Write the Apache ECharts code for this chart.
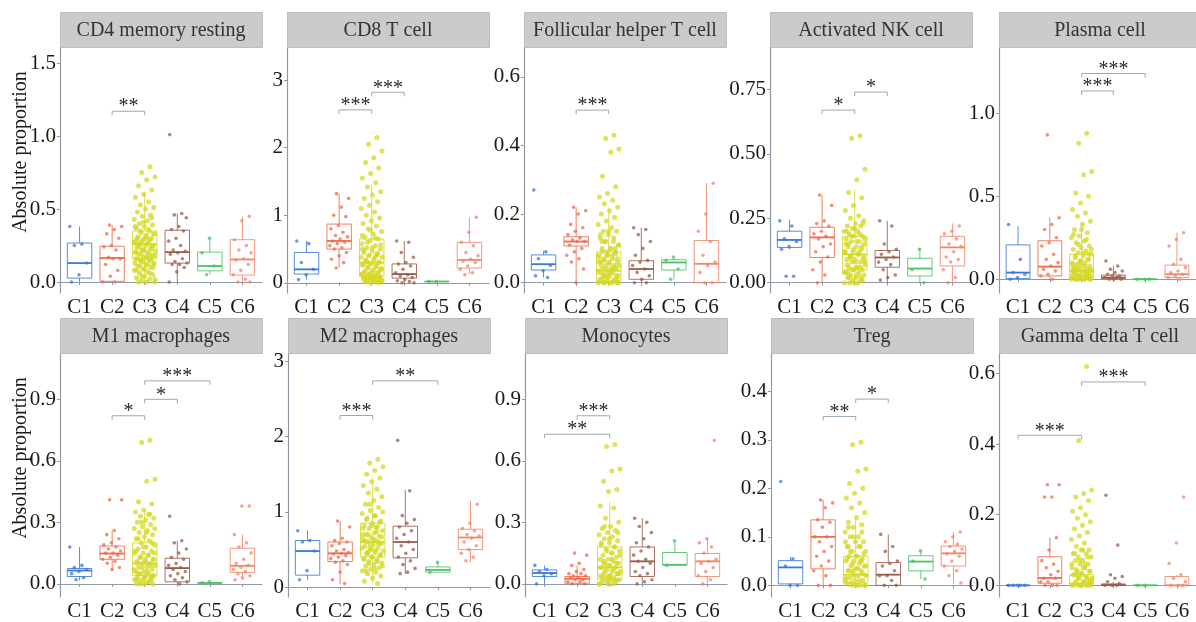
<!DOCTYPE html>
<html>
<head>
<meta charset="utf-8">
<script src="https://cdn.jsdelivr.net/npm/echarts@6/dist/echarts.min.js"></script>
<style>
  html, body { margin: 0; padding: 0; background: #fff; }
  #chart { width: 1196px; height: 622px; }
</style>
</head>
<body>
<div id="chart"></div>
<script>
const groups = ['C1', 'C2', 'C3', 'C4', 'C5', 'C6'];
const groupColors = ['#3b78d8', '#f06a48', '#d4d824', '#9b5b4b', '#4cc266', '#f3866a'];

// box stats per group: [lower whisker, Q1, median, Q3, upper whisker]
// CD4 memory resting
const cd4Box = [
  [0, 0.027, 0.13, 0.267, 0.38],
  [0, 0.005, 0.165, 0.245, 0.39],
  [0, 0.16, 0.26, 0.35, 0.62],
  [0, 0.13, 0.205, 0.355, 0.47],
  [0.05, 0.077, 0.11, 0.205, 0.30],
  [0, 0.048, 0.155, 0.29, 0.45]
];
const cd4Pts = [
  [0.38, 0.26, 0.25, 0.13, 0.05, 0],
  [0.39, 0.38, 0.36, 0.33, 0.3, 0.25, 0.24, 0.22, 0.17, 0.16, 0.16, 0.12, 0.08, 0.04, 0, 0],
  [0.79, 0.75, 0.72, 0.7, 0.66, 0.63, 0.6, 0.58, 0.55, 0.53, 0.51, 0.5, 0.48, 0.46, 0.45, 0.43, 0.42, 0.4, 0.39, 0.38,
   0.37, 0.35, 0.34, 0.33, 0.32, 0.31, 0.3, 0.29, 0.28, 0.27, 0.26, 0.25, 0.25, 0.24, 0.23, 0.22, 0.21, 0.2, 0.19, 0.18,
   0.17, 0.16, 0.15, 0.14, 0.13, 0.12, 0.11, 0.1, 0.09, 0.08, 0.07, 0.06, 0.05, 0.04, 0.03, 0.02, 0.01, 0, 0, 0,
   0.44, 0.41, 0.38, 0.36, 0.35, 0.33, 0.31, 0.3, 0.29, 0.28, 0.27, 0.26, 0.24, 0.23, 0.22, 0.21, 0.2, 0.19, 0.18, 0.17,
   0.16, 0.15, 0.14, 0.13, 0.12, 0.11, 0.1, 0.09, 0.08, 0.06, 0.04, 0.02, 0.3, 0.27, 0.25, 0.22, 0.2, 0.17, 0.15, 0.12],
  [1.01, 0.47, 0.46, 0.44, 0.38, 0.36, 0.35, 0.3, 0.28, 0.25, 0.22, 0.21, 0.2, 0.19, 0.16, 0.14, 0.13, 0.12, 0.12, 0.1, 0.07, 0],
  [0.3, 0.2, 0.11, 0.05],
  [0.45, 0.42, 0.29, 0.25, 0.22, 0.2, 0.16, 0.15, 0.12, 0.08, 0.05, 0.02, 0, 0]
];
const cd4Sig = [[2, 3, 1.17, '**']];

// CD8 T cell
const cd8Box = [
  [0.05, 0.13, 0.2, 0.45, 0.62],
  [0.22, 0.5, 0.62, 0.87, 1.32],
  [0, 0.1, 0.3, 0.65, 1.45],
  [0, 0.07, 0.13, 0.28, 0.62],
  [0.02, 0.02, 0.02, 0.02, 0.02],
  [0.13, 0.22, 0.34, 0.6, 0.97]
];
const cd8Pts = [
  [0.62, 0.58, 0.3, 0.2, 0.12, 0.05],
  [1.32, 1.25, 1.12, 1.0, 0.98, 0.85, 0.8, 0.75, 0.7, 0.68, 0.65, 0.62, 0.6, 0.58, 0.55, 0.52, 0.5, 0.45, 0.4, 0.35, 0.3, 0.22],
  [2.15, 2.05, 1.95, 1.85, 1.78, 1.7, 1.62, 1.55, 1.48, 1.42, 1.35, 1.3, 1.25, 1.2, 1.15, 1.1, 1.05, 1.0, 0.96, 0.92,
   0.88, 0.84, 0.8, 0.76, 0.72, 0.68, 0.65, 0.62, 0.58, 0.55, 0.52, 0.5, 0.47, 0.45, 0.42, 0.4, 0.38, 0.35, 0.33, 0.3,
   0.28, 0.26, 0.24, 0.22, 0.2, 0.18, 0.16, 0.15, 0.13, 0.12, 0.1, 0.09, 0.08, 0.07, 0.06, 0.05, 0.04, 0.03, 0.02, 0.01, 0,
   0.78, 0.7, 0.66, 0.6, 0.56, 0.52, 0.48, 0.44, 0.41, 0.38, 0.36, 0.34, 0.31, 0.29, 0.27, 0.25, 0.23, 0.21, 0.19, 0.17,
   0.15, 0.14, 0.13, 0.11, 0.1, 0.09, 0.08, 0.07, 0.06, 0.05, 0.04, 0.03, 0.02, 0.01, 0, 0.5, 0.4, 0.3, 0.2, 0.1],
  [0.62, 0.6, 0.45, 0.38, 0.3, 0.28, 0.25, 0.2, 0.15, 0.12, 0.1, 0.08, 0.05, 0.03, 0.02, 0, 0],
  [0.02, 0.02],
  [0.97, 0.75, 0.6, 0.55, 0.45, 0.4, 0.35, 0.32, 0.3, 0.25, 0.2, 0.15, 0.12]
];
const cd8Sig = [[2, 3, 2.56, '***'], [3, 4, 2.82, '***']];

// Follicular helper T cell
const tfhBox = [
  [0.015, 0.037, 0.054, 0.081, 0.093],
  [0, 0.107, 0.12, 0.134, 0.22],
  [0, 0.005, 0.035, 0.09, 0.22],
  [0, 0.01, 0.04, 0.064, 0.16],
  [0.01, 0.037, 0.059, 0.067, 0.075],
  [0, 0, 0.055, 0.123, 0.29]
];
const tfhPts = [
  [0.27, 0.09, 0.07, 0.05, 0.035, 0.02, 0.015],
  [0.22, 0.21, 0.2, 0.17, 0.16, 0.15, 0.14, 0.13, 0.125, 0.12, 0.12, 0.11, 0.1, 0.09, 0.08, 0.07, 0.06, 0.04, 0],
  [0.43, 0.42, 0.39, 0.38, 0.31, 0.28, 0.26, 0.25, 0.24, 0.23, 0.22, 0.21, 0.2, 0.19, 0.18, 0.17, 0.16, 0.15, 0.15, 0.14,
   0.13, 0.12, 0.12, 0.11, 0.1, 0.1, 0.09, 0.09, 0.08, 0.08, 0.07, 0.07, 0.06, 0.06, 0.05, 0.05, 0.05, 0.04, 0.04, 0.04,
   0.03, 0.03, 0.03, 0.02, 0.02, 0.02, 0.01, 0.01, 0.01, 0, 0, 0, 0,
   0.15, 0.14, 0.13, 0.12, 0.11, 0.1, 0.09, 0.085, 0.08, 0.075, 0.07, 0.065, 0.06, 0.055, 0.05, 0.045, 0.04, 0.035, 0.03, 0.025,
   0.02, 0.015, 0.01, 0.005, 0, 0, 0, 0.12, 0.1, 0.08, 0.06, 0.04, 0.02, 0.01],
  [0.16, 0.155, 0.14, 0.12, 0.1, 0.08, 0.065, 0.06, 0.05, 0.04, 0.03, 0.02, 0.01, 0, 0],
  [0.075, 0.065, 0.04, 0.01],
  [0.29, 0.2, 0.15, 0.12, 0.08, 0.06, 0.05, 0.03, 0, 0]
];
const tfhSig = [[2, 3, 0.503, '***']];

// Activated NK cell
const nkBox = [
  [0.13, 0.137, 0.166, 0.2, 0.245],
  [0, 0.098, 0.176, 0.215, 0.34],
  [0, 0.05, 0.11, 0.18, 0.36],
  [0, 0.06, 0.098, 0.125, 0.24],
  [0, 0.026, 0.055, 0.095, 0.135],
  [0, 0.065, 0.137, 0.18, 0.23]
];
const nkPts = [
  [0.24, 0.22, 0.17, 0.16, 0.14, 0.13, 0.025, 0.025],
  [0.34, 0.3, 0.24, 0.23, 0.22, 0.2, 0.19, 0.18, 0.17, 0.15, 0.14, 0.12, 0.1, 0.08, 0.05, 0.03, 0],
  [0.57, 0.56, 0.44, 0.4, 0.35, 0.33, 0.3, 0.28, 0.26, 0.25, 0.24, 0.23, 0.22, 0.22, 0.21, 0.2, 0.2, 0.19, 0.18, 0.18,
   0.17, 0.16, 0.16, 0.15, 0.14, 0.14, 0.13, 0.12, 0.12, 0.11, 0.1, 0.1, 0.09, 0.09, 0.08, 0.08, 0.07, 0.06, 0.06, 0.05,
   0.05, 0.04, 0.04, 0.03, 0.03, 0.02, 0.02, 0.01, 0.01, 0, 0, 0,
   0.23, 0.21, 0.2, 0.19, 0.18, 0.17, 0.16, 0.15, 0.14, 0.13, 0.12, 0.11, 0.1, 0.09, 0.08, 0.07, 0.06, 0.05, 0.04, 0.03,
   0.02, 0.01, 0, 0.15, 0.12, 0.1, 0.08, 0.06, 0.04, 0.02],
  [0.24, 0.22, 0.15, 0.13, 0.12, 0.11, 0.1, 0.09, 0.08, 0.07, 0.05, 0.03, 0.02, 0.01],
  [0.13, 0.05, 0],
  [0.22, 0.2, 0.19, 0.17, 0.15, 0.14, 0.12, 0.1, 0.09, 0.08, 0.05, 0.02, 0]
];
const nkSig = [[2, 3, 0.67, '*'], [3, 4, 0.74, '*']];

// Plasma cell
const plasmaBox = [
  [0, 0.004, 0.04, 0.207, 0.32],
  [0, 0.02, 0.076, 0.232, 0.37],
  [0, 0.01, 0.05, 0.15, 0.35],
  [0, 0.003, 0.01, 0.025, 0.08],
  [0, 0, 0, 0, 0],
  [0, 0.01, 0.03, 0.085, 0.28]
];
const plasmaPts = [
  [0.33, 0.12, 0.04, 0.03, 0.01, 0],
  [0.87, 0.37, 0.33, 0.3, 0.25, 0.22, 0.2, 0.15, 0.12, 0.1, 0.08, 0.06, 0.05, 0.03, 0.02, 0],
  [0.88, 0.82, 0.65, 0.63, 0.52, 0.5, 0.46, 0.42, 0.4, 0.38, 0.35, 0.33, 0.3, 0.28, 0.26, 0.25, 0.23, 0.22, 0.2, 0.19,
   0.18, 0.17, 0.16, 0.15, 0.14, 0.13, 0.12, 0.11, 0.1, 0.1, 0.09, 0.08, 0.08, 0.07, 0.06, 0.06, 0.05, 0.05, 0.04, 0.04,
   0.03, 0.03, 0.02, 0.02, 0.02, 0.01, 0.01, 0.01, 0, 0, 0, 0, 0,
   0.3, 0.27, 0.24, 0.21, 0.18, 0.16, 0.14, 0.12, 0.1, 0.09, 0.08, 0.07, 0.06, 0.05, 0.04, 0.03, 0.02, 0.01, 0, 0,
   0.15, 0.11, 0.06, 0.03, 0.01, 0],
  [0.11, 0.08, 0.06, 0.05, 0.04, 0.03, 0.02, 0.02, 0.01, 0.01, 0, 0, 0],
  [0, 0, 0],
  [0.28, 0.24, 0.2, 0.12, 0.09, 0.07, 0.05, 0.04, 0.03, 0.02, 0.01, 0]
];
const plasmaSig = [[3, 4, 1.135, '***'], [3, 5, 1.24, '***']];

// M1 macrophages
const m1Box = [
  [0.016, 0.036, 0.065, 0.075, 0.18],
  [0.064, 0.12, 0.148, 0.185, 0.257],
  [0, 0.04, 0.1, 0.2, 0.36],
  [0, 0.01, 0.077, 0.125, 0.21],
  [0.005, 0.005, 0.005, 0.005, 0.01],
  [0.02, 0.056, 0.088, 0.174, 0.24]
];
const m1Pts = [
  [0.18, 0.09, 0.08, 0.07, 0.06, 0.05, 0.03, 0.02],
  [0.41, 0.41, 0.26, 0.24, 0.22, 0.2, 0.19, 0.18, 0.17, 0.16, 0.15, 0.15, 0.14, 0.13, 0.12, 0.11, 0.1, 0.08, 0.07],
  [0.7, 0.69, 0.51, 0.5, 0.4, 0.39, 0.36, 0.35, 0.34, 0.33, 0.32, 0.31, 0.3, 0.29, 0.28, 0.27, 0.26, 0.25, 0.24, 0.23,
   0.22, 0.21, 0.2, 0.19, 0.18, 0.17, 0.16, 0.15, 0.15, 0.14, 0.13, 0.12, 0.12, 0.11, 0.1, 0.1, 0.09, 0.08, 0.08, 0.07,
   0.06, 0.06, 0.05, 0.05, 0.04, 0.04, 0.03, 0.03, 0.02, 0.02, 0.01, 0.01, 0, 0, 0,
   0.34, 0.3, 0.27, 0.25, 0.22, 0.2, 0.18, 0.16, 0.14, 0.13, 0.12, 0.11, 0.1, 0.09, 0.08, 0.07, 0.06, 0.05, 0.04, 0.03,
   0.02, 0.01, 0, 0.15, 0.1, 0.05, 0.02],
  [0.33, 0.21, 0.2, 0.17, 0.15, 0.13, 0.12, 0.1, 0.09, 0.08, 0.07, 0.06, 0.05, 0.04, 0.03, 0.02, 0.01, 0],
  [0.01, 0.005],
  [0.38, 0.38, 0.24, 0.2, 0.18, 0.15, 0.12, 0.1, 0.09, 0.08, 0.07, 0.06, 0.05, 0.04, 0.03, 0.02]
];
const m1Sig = [[2, 3, 0.82, '*'], [3, 4, 0.90, '*'], [3, 5, 0.99, '***']];

// M2 macrophages
const m2Box = [
  [0.095, 0.16, 0.48, 0.62, 0.755],
  [0.04, 0.34, 0.45, 0.6, 0.88],
  [0.05, 0.4, 0.6, 0.85, 1.45],
  [0.175, 0.39, 0.6, 0.81, 1.29],
  [0.2, 0.2, 0.23, 0.27, 0.33],
  [0.33, 0.5, 0.66, 0.77, 1.14]
];
const m2Pts = [
  [0.75, 0.62, 0.6, 0.48, 0.22, 0.1],
  [0.88, 0.8, 0.65, 0.62, 0.6, 0.58, 0.55, 0.5, 0.48, 0.46, 0.45, 0.44, 0.42, 0.4, 0.38, 0.35, 0.33, 0.3, 0.2, 0.1, 0.05],
  [1.7, 1.65, 1.6, 1.55, 1.5, 1.45, 1.4, 1.35, 1.3, 1.25, 1.2, 1.15, 1.1, 1.06, 1.02, 0.98, 0.95, 0.92, 0.88, 0.85,
   0.82, 0.8, 0.78, 0.75, 0.72, 0.7, 0.68, 0.66, 0.64, 0.62, 0.6, 0.58, 0.56, 0.54, 0.52, 0.5, 0.48, 0.46, 0.44, 0.42,
   0.4, 0.38, 0.36, 0.34, 0.32, 0.3, 0.28, 0.26, 0.24, 0.22, 0.2, 0.18, 0.15, 0.12, 0.08, 0.05,
   1.1, 1.0, 0.95, 0.9, 0.86, 0.82, 0.78, 0.74, 0.7, 0.67, 0.64, 0.61, 0.58, 0.55, 0.52, 0.49, 0.46, 0.43, 0.4, 0.37,
   0.34, 0.31, 0.28, 0.25, 0.22, 0.6, 0.5, 0.7, 0.8, 0.45],
  [1.95, 1.28, 0.95, 0.9, 0.85, 0.8, 0.75, 0.7, 0.65, 0.6, 0.55, 0.5, 0.45, 0.4, 0.35, 0.3, 0.25, 0.2, 0.18],
  [0.33, 0.2],
  [1.1, 0.85, 0.78, 0.75, 0.7, 0.68, 0.65, 0.6, 0.55, 0.5, 0.45, 0.4, 0.35]
];
const m2Sig = [[2, 3, 2.28, '***'], [3, 5, 2.74, '**']];

// Monocytes
const monoBox = [
  [0, 0.036, 0.053, 0.068, 0.09],
  [0, 0.003, 0.025, 0.036, 0.09],
  [0, 0.02, 0.08, 0.18, 0.4],
  [0, 0.036, 0.11, 0.18, 0.32],
  [0.093, 0.093, 0.093, 0.153, 0.21],
  [0, 0.036, 0.11, 0.148, 0.225]
];
const monoPts = [
  [0.09, 0.07, 0.06, 0.05, 0.04, 0],
  [0.15, 0.14, 0.1, 0.09, 0.07, 0.06, 0.05, 0.05, 0.04, 0.04, 0.03, 0.03, 0.02, 0.02, 0.01, 0.01, 0, 0],
  [0.68, 0.67, 0.56, 0.55, 0.5, 0.46, 0.45, 0.38, 0.37, 0.32, 0.3, 0.28, 0.27, 0.26, 0.25, 0.24, 0.23, 0.22, 0.21, 0.2,
   0.19, 0.18, 0.17, 0.16, 0.15, 0.14, 0.13, 0.12, 0.12, 0.11, 0.1, 0.1, 0.09, 0.08, 0.08, 0.07, 0.06, 0.06, 0.05, 0.05,
   0.04, 0.04, 0.03, 0.03, 0.02, 0.02, 0.01, 0.01, 0, 0, 0,
   0.28, 0.25, 0.22, 0.2, 0.18, 0.16, 0.14, 0.12, 0.11, 0.1, 0.09, 0.08, 0.07, 0.06, 0.05, 0.04, 0.03, 0.02, 0.01, 0,
   0.15, 0.1, 0.05, 0.03],
  [0.32, 0.3, 0.28, 0.25, 0.22, 0.2, 0.18, 0.16, 0.14, 0.12, 0.11, 0.1, 0.08, 0.06, 0.05, 0.04, 0.02, 0.01, 0],
  [0.21, 0.09],
  [0.7, 0.22, 0.2, 0.18, 0.15, 0.12, 0.11, 0.1, 0.08, 0.06, 0.04, 0.02, 0]
];
const monoSig = [[1, 3, 0.73, '**'], [2, 3, 0.82, '***']];

// Treg
const tregBox = [
  [0, 0.003, 0.037, 0.051, 0.058],
  [0, 0.034, 0.1, 0.135, 0.176],
  [0, 0.005, 0.022, 0.06, 0.14],
  [0, 0, 0.022, 0.047, 0.105],
  [0.013, 0.03, 0.049, 0.061, 0.071],
  [0.003, 0.04, 0.066, 0.081, 0.11]
];
const tregPts = [
  [0.214, 0.055, 0.04, 0, 0],
  [0.176, 0.17, 0.16, 0.135, 0.13, 0.12, 0.1, 0.1, 0.09, 0.08, 0.07, 0.06, 0.05, 0.04, 0.03, 0.02, 0, 0],
  [0.295, 0.29, 0.24, 0.235, 0.21, 0.2, 0.19, 0.18, 0.17, 0.16, 0.15, 0.14, 0.13, 0.125, 0.12, 0.11, 0.1, 0.1, 0.09, 0.09,
   0.08, 0.08, 0.07, 0.07, 0.06, 0.06, 0.055, 0.05, 0.05, 0.045, 0.04, 0.04, 0.035, 0.03, 0.03, 0.025, 0.02, 0.02, 0.015, 0.01,
   0.01, 0.005, 0, 0, 0, 0,
   0.12, 0.11, 0.1, 0.09, 0.08, 0.07, 0.065, 0.06, 0.055, 0.05, 0.045, 0.04, 0.035, 0.03, 0.025, 0.02, 0.015, 0.01, 0.005, 0,
   0, 0.08, 0.05, 0.03, 0.01],
  [0.105, 0.08, 0.07, 0.05, 0.045, 0.04, 0.03, 0.02, 0.02, 0.01, 0, 0],
  [0.071, 0.05, 0.013],
  [0.11, 0.1, 0.09, 0.085, 0.08, 0.075, 0.07, 0.065, 0.06, 0.05, 0.04, 0.03, 0.02, 0.005]
];
const tregSig = [[2, 3, 0.348, '**'], [3, 4, 0.384, '*']];

// Gamma delta T cell
const gdBox = [
  [0, 0, 0, 0, 0],
  [0, 0.006, 0.021, 0.081, 0.135],
  [0, 0, 0.005, 0.03, 0.08],
  [0, 0, 0.001, 0.004, 0.01],
  [0, 0, 0, 0, 0],
  [0, 0, 0, 0.025, 0.03]
];
const gdPts = [
  [0, 0, 0, 0, 0],
  [0.285, 0.285, 0.25, 0.25, 0.135, 0.1, 0.07, 0.06, 0.05, 0.04, 0.03, 0.02, 0.02, 0.01, 0.01, 0, 0, 0],
  [0.62, 0.41, 0.27, 0.26, 0.25, 0.24, 0.22, 0.21, 0.2, 0.19, 0.18, 0.17, 0.16, 0.15, 0.14, 0.13, 0.12, 0.11, 0.1, 0.1,
   0.09, 0.09, 0.08, 0.08, 0.07, 0.07, 0.06, 0.06, 0.05, 0.05, 0.04, 0.04, 0.03, 0.03, 0.02, 0.02, 0.02, 0.01, 0.01, 0.01,
   0, 0, 0, 0, 0,
   0.1, 0.09, 0.08, 0.07, 0.06, 0.05, 0.045, 0.04, 0.035, 0.03, 0.025, 0.02, 0.015, 0.01, 0.005, 0, 0, 0, 0.06, 0.03, 0.01],
  [0.255, 0.114, 0.03, 0.025, 0.02, 0.01, 0.005, 0, 0, 0],
  [0, 0],
  [0.25, 0.12, 0.062, 0.03, 0.02, 0.01, 0, 0, 0]
];
const gdSig = [[1, 3, 0.425, '***'], [3, 5, 0.576, '***']];

const panels = [
  {title: 'CD4 memory resting', box: cd4Box, pts: cd4Pts, sig: cd4Sig, left: 60, top: 47, h: 246, range: [-0.075, 1.61], ticks: [0, 0.5, 1, 1.5], dec: 1},
  {title: 'CD8 T cell', box: cd8Box, pts: cd8Pts, sig: cd8Sig, left: 287, top: 47, h: 246, range: [-0.15, 3.49], ticks: [0, 1, 2, 3], dec: 0},
  {title: 'Follicular helper T cell', box: tfhBox, pts: tfhPts, sig: tfhSig, left: 524, top: 47, h: 246, range: [-0.03, 0.687], ticks: [0, 0.2, 0.4, 0.6], dec: 1},
  {title: 'Activated NK cell', box: nkBox, pts: nkPts, sig: nkSig, left: 770, top: 47, h: 246, range: [-0.04, 0.915], ticks: [0, 0.25, 0.5, 0.75], dec: 2},
  {title: 'Plasma cell', box: plasmaBox, pts: plasmaPts, sig: plasmaSig, left: 999, top: 47, h: 246, range: [-0.083, 1.40], ticks: [0, 0.5, 1], dec: 1},
  {title: 'M1 macrophages', box: m1Box, pts: m1Pts, sig: m1Sig, left: 60, top: 353, h: 247, range: [-0.064, 1.126], ticks: [0, 0.3, 0.6, 0.9], dec: 1},
  {title: 'M2 macrophages', box: m2Box, pts: m2Pts, sig: m2Sig, left: 288, top: 353, h: 247, range: [-0.13, 3.11], ticks: [0, 1, 2, 3], dec: 0},
  {title: 'Monocytes', box: monoBox, pts: monoPts, sig: monoSig, left: 525, top: 353, h: 247, range: [-0.064, 1.126], ticks: [0, 0.3, 0.6, 0.9], dec: 1},
  {title: 'Treg', box: tregBox, pts: tregPts, sig: tregSig, left: 771, top: 353, h: 247, range: [-0.024, 0.479], ticks: [0, 0.1, 0.2, 0.3, 0.4], dec: 1},
  {title: 'Gamma delta T cell', box: gdBox, pts: gdPts, sig: gdSig, left: 999, top: 353, h: 247, range: [-0.033, 0.658], ticks: [0, 0.2, 0.4, 0.6], dec: 1}
];

const PW = 202;      // panel width
const STRIP = 35;    // facet strip height
const serif = '"Liberation Serif", "DejaVu Serif", serif';
const axisGray = '#8e9ba6';

const grid = [], xAxis = [], yAxis = [], series = [], graphic = [];

panels.forEach((p, i) => {
  grid.push({left: p.left, top: p.top, width: PW, height: p.h});
  xAxis.push({
    type: 'value', gridIndex: i, min: 0.4, max: 6.6,
    axisLine: {show: true, lineStyle: {color: axisGray, width: 1.2}},
    axisTick: {show: true, length: 3, lineStyle: {color: axisGray}, customValues: [1, 2, 3, 4, 5, 6]},
    axisLabel: {customValues: [1, 2, 3, 4, 5, 6], formatter: v => groups[Math.round(v) - 1],
                color: '#1a1a1a', fontFamily: serif, fontSize: 21, margin: 4},
    splitLine: {show: false}
  });
  yAxis.push({
    type: 'value', gridIndex: i, min: p.range[0], max: p.range[1],
    axisLine: {show: true, lineStyle: {color: axisGray, width: 1.2}},
    axisTick: {show: true, length: 3, lineStyle: {color: axisGray}, customValues: p.ticks},
    axisLabel: {customValues: p.ticks, formatter: v => Number(v).toFixed(p.dec),
                color: '#1a1a1a', fontFamily: serif, fontSize: 21, margin: 4},
    splitLine: {show: false}
  });

  // boxes
  series.push({
    type: 'custom', xAxisIndex: i, yAxisIndex: i, z: 2,
    data: p.box.map((b, g) => [g + 1].concat(b)),
    encode: {x: 0, y: [1, 2, 3, 4, 5]},
    renderItem: (params, api) => {
      const g = api.value(0);
      const x = api.coord([g, 0])[0];
      const half = api.size([0.75, 0])[0] / 2;
      const y = [1, 2, 3, 4, 5].map(k => api.coord([g, api.value(k)])[1]);
      const color = groupColors[g - 1];
      const st = {stroke: color, lineWidth: 1, fill: 'transparent', opacity: 0.85};
      return {type: 'group', children: [
        {type: 'line', shape: {x1: x, y1: y[4], x2: x, y2: y[3]}, style: st},
        {type: 'line', shape: {x1: x, y1: y[1], x2: x, y2: y[0]}, style: st},
        {type: 'rect', shape: {x: x - half, y: y[3], width: half * 2, height: y[1] - y[3]}, style: st},
        {type: 'line', shape: {x1: x - half, y1: y[2], x2: x + half, y2: y[2]}, style: {stroke: color, lineWidth: 1.8}}
      ]};
    }
  });

  // jittered points
  const pts = [];
  p.pts.forEach((vals, g) => {
    const spread = g === 2 ? 0.66 : 0.6;
    vals.forEach((v, k) => {
      const off = ((k * 0.6180339 + g * 0.37) % 1 - 0.5) * spread;
      pts.push({value: [g + 1 + off, v], itemStyle: {color: groupColors[g]}, symbolSize: g === 2 ? 5 : 3.6});
    });
  });
  series.push({
    type: 'scatter', xAxisIndex: i, yAxisIndex: i, z: 3,
    data: pts, itemStyle: {opacity: 0.75}, silent: true
  });

  // significance brackets
  series.push({
    type: 'custom', xAxisIndex: i, yAxisIndex: i, z: 4,
    data: p.sig.map(s => [s[0], s[1], s[2]]),
    renderItem: (params, api) => {
      const a = api.coord([api.value(0), api.value(2)]);
      const b = api.coord([api.value(1), api.value(2)]);
      const label = p.sig[params.dataIndex][3];
      return {type: 'group', children: [
        {type: 'polyline', shape: {points: [[a[0], a[1] + 4], a, b, [b[0], b[1] + 4]]},
         style: {stroke: '#9aa9b6', lineWidth: 1, fill: 'transparent'}},
        {type: 'text', style: {text: label, x: (a[0] + b[0]) / 2, y: a[1] + 6, align: 'center', verticalAlign: 'bottom',
         font: '20px ' + serif, fill: '#2a2a2a'}}
      ]};
    }
  });

  // facet strip
  graphic.push({type: 'rect', left: p.left, top: p.top - STRIP, shape: {width: PW, height: STRIP},
                style: {fill: '#cbcbcb', stroke: '#bdbdbd', lineWidth: 1}, z: 10});
  graphic.push({type: 'text', x: p.left + PW / 2, y: p.top - STRIP / 2 + 1, z: 11,
                style: {text: p.title, font: '20px ' + serif, fill: '#333', align: 'center', verticalAlign: 'middle',
                        textAlign: 'center', textVerticalAlign: 'middle'}});
});

// shared y-axis titles
[152, 458].forEach(cy => {
  graphic.push({type: 'text', x: 21, y: cy, rotation: Math.PI / 2, z: 11,
                style: {text: 'Absolute proportion', font: '20px ' + serif, fill: '#1a1a1a',
                        align: 'center', verticalAlign: 'middle', textAlign: 'center', textVerticalAlign: 'middle'}});
});

const chart = echarts.init(document.getElementById('chart'));
chart.setOption({
  backgroundColor: '#ffffff',
  animation: false,
  grid, xAxis, yAxis, series, graphic
});
</script>
</body>
</html>
